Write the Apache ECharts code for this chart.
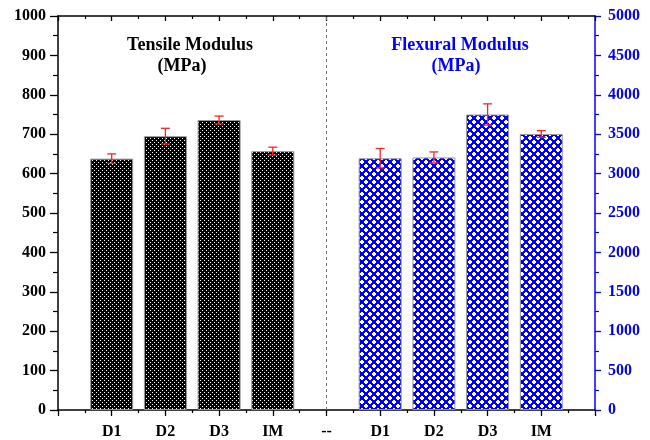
<!DOCTYPE html>
<html>
<head>
<meta charset="utf-8">
<script src="https://cdn.jsdelivr.net/npm/echarts@6/dist/echarts.min.js"></script>
<style>html,body{margin:0;padding:0;background:#fff}#c{width:650px;height:440px}</style>
</head>
<body>
<div id="c"></div>
<script>
// ---- data ----
var axisLabels = ['', 'D1', 'D2', 'D3', 'IM', '--', 'D1', 'D2', 'D3', 'IM', ''];
var tensilePos = [1, 2, 3, 4];
var tensile = [638, 695, 736, 657];
var tensileErr = [12, 20, 10, 10];
var flexuralPos = [6, 7, 8, 9];
var flexural = [3195, 3205, 3750, 3503];
var flexuralErr = [123, 70, 135, 42];
var leftTicks = [0, 1000, 100];
var rightTicks = [0, 5000, 500];

var FONT = '"Liberation Serif", "Times New Roman", serif';

function makePattern(size, bg, fg, pixels) {
  var c = document.createElement('canvas');
  c.width = size; c.height = size;
  var g = c.getContext('2d');
  g.fillStyle = bg; g.fillRect(0, 0, size, size);
  g.fillStyle = fg;
  pixels.forEach(function (p) {
    g.fillRect(((p[0] % size) + size) % size, ((p[1] % size) + size) % size, 1, 1);
  });
  return c;
}
function crossAt(x, y) { // 4x4 block with corners removed
  var out = [];
  for (var i = 0; i < 4; i++) for (var j = 0; j < 4; j++) {
    if ((i === 0 || i === 3) && (j === 0 || j === 3)) continue;
    out.push([x + i, y + j]);
  }
  return out;
}
var blackPat = makePattern(4, '#000', '#fff', [[0, 0], [2, 2]]);
var bluePat = makePattern(8, '#0000ff', '#fff', crossAt(0, 0).concat(crossAt(4, 4)));

function zip(xs, ys) { return xs.map(function (x, i) { return [x, ys[i]]; }); }
function zipErr(xs, ys, es) { return xs.map(function (x, i) { return [x, ys[i] - es[i], ys[i] + es[i]]; }); }

function errRender(params, api) {
  var x = api.value(0);
  var lo = api.coord([x, api.value(1)]);
  var hi = api.coord([x, api.value(2)]);
  var hw = 4.5;
  var st = { stroke: '#ff2020', lineWidth: 1.3 };
  return {
    type: 'group',
    children: [
      { type: 'line', shape: { x1: lo[0], y1: lo[1], x2: hi[0], y2: hi[1] }, style: st },
      { type: 'line', shape: { x1: lo[0] - hw, y1: lo[1], x2: lo[0] + hw, y2: lo[1] }, style: st },
      { type: 'line', shape: { x1: hi[0] - hw, y1: hi[1], x2: hi[0] + hw, y2: hi[1] }, style: st }
    ]
  };
}
function plain(v) { return String(v); }

var chart = echarts.init(document.getElementById('c'), null, { renderer: 'canvas' });
var xBase = {
  type: 'value', min: 0, max: 10, interval: 1,
  splitLine: { show: false }, minorSplitLine: { show: false }
};
function title(text, x, y, color) {
  return {
    type: 'text', x: x, y: y, z: 10,
    style: { text: text, font: 'bold 18px ' + FONT, fill: color, align: 'center', verticalAlign: 'middle' }
  };
}
chart.setOption({
  animation: false,
  grid: { left: 58, right: 55, top: 16, bottom: 30, containLabel: false },
  xAxis: [
    Object.assign({}, xBase, {
      position: 'bottom',
      axisLine: { onZero: false, lineStyle: { color: '#000', width: 1.5 } },
      axisTick: { inside: false, length: 6, lineStyle: { color: '#000', width: 1.3 } },
      minorTick: { show: true, splitNumber: 2, length: 3, lineStyle: { color: '#000', width: 1.2 } },
      axisLabel: {
        margin: 14, color: '#000', fontFamily: FONT, fontWeight: 'bold', fontSize: 16,
        formatter: function (v) { return axisLabels[Math.round(v)] || ''; }
      }
    }),
    Object.assign({}, xBase, {
      position: 'top',
      axisLine: { onZero: false, lineStyle: { color: '#000', width: 1.5 } },
      axisTick: { inside: true, length: 5, lineStyle: { color: '#000', width: 1.3 } },
      minorTick: { show: true, splitNumber: 2, length: 3, lineStyle: { color: '#000', width: 1.2 } },
      axisLabel: { show: false }
    })
  ],
  yAxis: [
    {
      type: 'value', position: 'left', min: leftTicks[0], max: leftTicks[1], interval: leftTicks[2],
      splitLine: { show: false },
      axisLine: { show: true, onZero: false, lineStyle: { color: '#000', width: 1.5 } },
      axisTick: { show: true, length: 8, lineStyle: { color: '#000', width: 1.3 } },
      minorTick: { show: true, splitNumber: 2, length: 5, lineStyle: { color: '#000', width: 1.2 } },
      axisLabel: { margin: 12, color: '#000', fontFamily: FONT, fontWeight: 'bold', fontSize: 16, formatter: plain }
    },
    {
      type: 'value', position: 'right', min: rightTicks[0], max: rightTicks[1], interval: rightTicks[2],
      splitLine: { show: false },
      axisLine: { show: true, onZero: false, lineStyle: { color: '#0000ff', width: 1.5 } },
      axisTick: { show: true, length: 6, lineStyle: { color: '#0000ff', width: 1.3 } },
      minorTick: { show: true, splitNumber: 2, length: 4, lineStyle: { color: '#0000ff', width: 1.2 } },
      axisLabel: { margin: 13, color: '#0000ff', fontFamily: FONT, fontWeight: 'bold', fontSize: 16, formatter: plain }
    }
  ],
  graphic: [
    title('Tensile Modulus', 190, 45, '#000'),
    title('(MPa)', 182, 66, '#000'),
    title('Flexural Modulus', 460, 45, '#0000ff'),
    title('(MPa)', 456, 66, '#0000ff')
  ],
  series: [
    {
      type: 'bar', name: 'Tensile', xAxisIndex: 0, yAxisIndex: 0, barWidth: 43, barGap: '-100%',
      data: zip(tensilePos, tensile),
      itemStyle: { color: { image: blackPat, repeat: 'repeat' }, borderColor: '#999', borderWidth: 1 },
      markLine: {
        silent: true, symbol: 'none', label: { show: false },
        lineStyle: { color: '#777', type: [3, 3], width: 1 },
        data: [{ xAxis: 5 }]
      },
      z: 2
    },
    {
      type: 'bar', name: 'Flexural', xAxisIndex: 0, yAxisIndex: 1, barWidth: 43, barGap: '-100%',
      data: zip(flexuralPos, flexural),
      itemStyle: { color: { image: bluePat, repeat: 'repeat' }, borderColor: '#999', borderWidth: 1 },
      z: 2
    },
    {
      type: 'custom', xAxisIndex: 0, yAxisIndex: 0, renderItem: errRender,
      data: zipErr(tensilePos, tensile, tensileErr), z: 5
    },
    {
      type: 'custom', xAxisIndex: 0, yAxisIndex: 1, renderItem: errRender,
      data: zipErr(flexuralPos, flexural, flexuralErr), z: 5
    }
  ]
});
</script>
</body>
</html>
